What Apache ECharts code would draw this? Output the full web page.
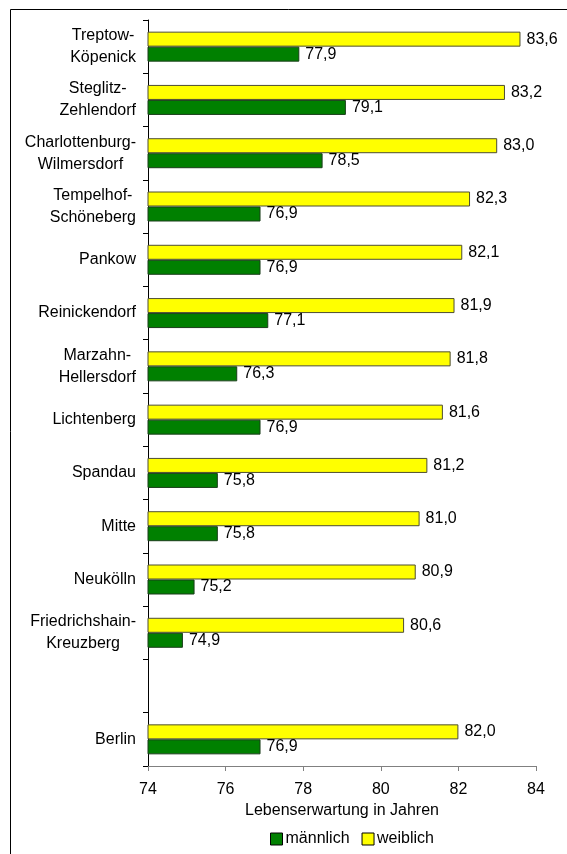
<!DOCTYPE html>
<html>
<head>
<meta charset="utf-8">
<script src="https://cdn.jsdelivr.net/npm/echarts@6/dist/echarts.min.js"></script>
<style>
  html, body { margin: 0; padding: 0; background: #fff; }
  #chart { width: 567px; height: 854px; }
</style>
</head>
<body>
<div id="chart"></div>
<script>
var myChart = echarts.init(document.getElementById('chart'));

// Bezirke (von oben nach unten), Leerzeile vor Berlin
var bezirke = [
    'Treptow-\nKöpenick',
    'Steglitz-\nZehlendorf',
    'Charlottenburg-\nWilmersdorf',
    'Tempelhof-\nSchöneberg',
    'Pankow',
    'Reinickendorf',
    'Marzahn-\nHellersdorf',
    'Lichtenberg',
    'Spandau',
    'Mitte',
    'Neukölln',
    'Friedrichshain-\nKreuzberg',
    '',
    'Berlin'
];
var weiblich = [83.6, 83.2, 83.0, 82.3, 82.1, 81.9, 81.8, 81.6, 81.2, 81.0, 80.9, 80.6, null, 82.0];
var maennlich = [77.9, 79.1, 78.5, 76.9, 76.9, 77.1, 76.3, 76.9, 75.8, 75.8, 75.2, 74.9, null, 76.9];
var xTicks = [74, 76, 78, 80, 82, 84];

var font = 'Liberation Sans, Arial, sans-serif';

function valueLabel(p) {
    return p.value.toFixed(1).replace('.', ',');
}

option = {
    animation: false,
    backgroundColor: '#fff',
    textStyle: { fontFamily: font },
    grid: { left: 148, right: 31, top: 20, bottom: 88 },
    legend: {
        data: ['männlich', 'weiblich'],
        left: 270,
        top: 831,
        padding: 0,
        icon: 'rect',
        itemWidth: 12,
        itemHeight: 12,
        itemGap: 12,
        itemStyle: { borderColor: '#000', borderWidth: 1 },
        textStyle: { fontFamily: font, fontSize: 16, color: '#000', padding: [0, 0, 0, -2] }
    },
    xAxis: {
        type: 'value',
        min: xTicks[0],
        max: xTicks[xTicks.length - 1],
        interval: 2,
        name: 'Lebenserwartung in Jahren',
        nameLocation: 'middle',
        nameGap: 30,
        nameTextStyle: { fontFamily: font, fontSize: 16, color: '#000' },
        splitLine: { show: false },
        axisLine: { show: true, lineStyle: { color: '#808080', width: 1 } },
        axisTick: { show: true, length: 5, lineStyle: { color: '#808080' } },
        axisLabel: { fontFamily: font, fontSize: 16, color: '#000', margin: 16 }
    },
    yAxis: {
        type: 'category',
        inverse: true,
        data: bezirke,
        axisLine: { show: true, lineStyle: { color: '#000', width: 1 } },
        axisTick: { show: true, length: 5, lineStyle: { color: '#000' } },
        axisLabel: {
            margin: 12,
            fontFamily: font,
            fontSize: 16,
            color: '#000',
            lineHeight: 22,
            formatter: function (v) {
                return v.split('\n').map(function (l) { return '{c|' + l + '}'; }).join('\n');
            },
            rich: { c: { align: 'center', fontFamily: font, fontSize: 16, color: '#000', lineHeight: 22 } }
        }
    },
    series: [{
        name: 'weiblich',
        type: 'bar',
        data: weiblich,
        barWidth: 15,
        barGap: '0%',
        itemStyle: { color: '#ffff00', borderColor: '#4d4d33', borderWidth: 1 },
        label: { show: true, position: 'right', distance: 6, formatter: valueLabel,
                 fontFamily: font, fontSize: 16, color: '#000' }
    }, {
        name: 'männlich',
        type: 'bar',
        data: maennlich,
        barWidth: 15,
        barGap: '0%',
        itemStyle: { color: '#008000', borderColor: '#1a3d1a', borderWidth: 1 },
        label: { show: true, position: 'right', distance: 6, formatter: valueLabel,
                 fontFamily: font, fontSize: 16, color: '#000' }
    }],
    graphic: [
        { type: 'line', shape: { x1: 10.5, y1: 9.5, x2: 567, y2: 9.5 }, style: { stroke: '#000', lineWidth: 1 } },
        { type: 'line', shape: { x1: 10.5, y1: 9.5, x2: 10.5, y2: 854 }, style: { stroke: '#000', lineWidth: 1 } }
    ]
};

myChart.setOption(option);
</script>
</body>
</html>
